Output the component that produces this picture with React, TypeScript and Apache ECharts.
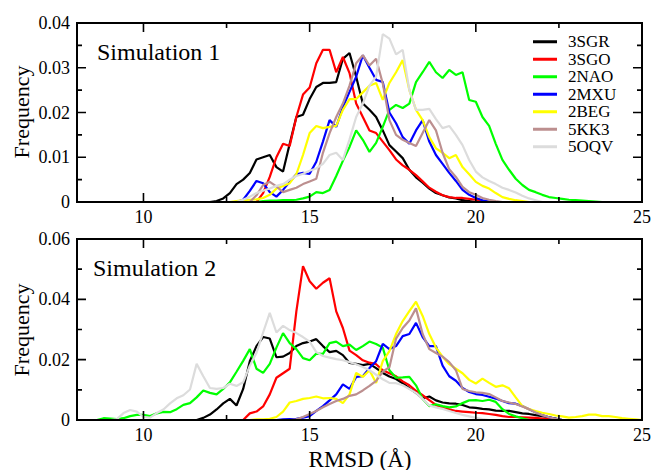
import React, { useEffect, useRef } from 'react';
import * as echarts from 'echarts';

// ---------- data ----------
const seriesNames = ['3SGR', '3SGO', '2NAO', '2MXU', '2BEG', '5KK3', '5OQV'];
const seriesColors = ['#000000', '#ff0000', '#00ff00', '#0000ff', '#ffff00', '#bc8f8f', '#dcdcdc'];
const binWidth = 0.2; // RMSD histogram bin (Å)

const xMajorTicks = [10, 15, 20, 25];
const xMinorTicks = [12.5, 17.5, 22.5];
const sim1YMajorTicks = [0.01, 0.02, 0.03];
const sim1YMinorTicks = [0.005, 0.015, 0.025, 0.035];
const sim2YMajorTicks = [0.02, 0.04];
const sim2YMinorTicks = [0.01, 0.03, 0.05];

// Simulation 1: first bin (Å) and frequencies
const sim1Starts = [12.0, 13.4, 13.4, 12.8, 12.6, 13.2, 12.8];
const sim1_3SGR = [0, 0.0002, 0.0008, 0.002, 0.004, 0.005, 0.0065, 0.0095, 0.010, 0.0105, 0.0078, 0.0068, 0.013, 0.019, 0.0195, 0.023, 0.0257, 0.0266, 0.0266, 0.0268, 0.032, 0.0333, 0.028, 0.022, 0.0206, 0.019, 0.016, 0.0127, 0.0113, 0.0098, 0.0072, 0.0055, 0.0043, 0.003, 0.002, 0.0015, 0.001, 0.0008, 0.0004, 0.0002, 0];
const sim1_3SGO = [0, 0.002, 0.0056, 0.010, 0.013, 0.0125, 0.019, 0.024, 0.0256, 0.031, 0.034, 0.034, 0.029, 0.0324, 0.0288, 0.022, 0.019, 0.016, 0.0154, 0.0135, 0.0116, 0.0095, 0.0082, 0.0072, 0.006, 0.0046, 0.0032, 0.0023, 0.0015, 0.0011, 0.0009, 0.0009, 0.0007, 0.0005, 0.0002, 0];
const sim1_2NAO = [0, 0.0002, 0.0003, 0.0003, 0.0004, 0.0004, 0.0005, 0.0008, 0.0012, 0.0022, 0.002, 0.0027, 0.0058, 0.0092, 0.0123, 0.016, 0.0139, 0.0112, 0.0132, 0.0168, 0.0206, 0.0217, 0.021, 0.022, 0.0268, 0.029, 0.0313, 0.029, 0.0277, 0.0295, 0.0284, 0.029, 0.0228, 0.0224, 0.019, 0.017, 0.013, 0.0094, 0.0072, 0.0052, 0.0038, 0.0027, 0.0022, 0.0016, 0.0011, 0.0009, 0.0007, 0.0005, 0.0004, 0.0003, 0.0002, 0.0001, 0];
const sim1_2MXU = [0, 0.0005, 0.0025, 0.0047, 0.0042, 0.0022, 0.0012, 0.0027, 0.0045, 0.0062, 0.0065, 0.0063, 0.009, 0.0135, 0.0183, 0.0168, 0.0212, 0.0246, 0.028, 0.0328, 0.030, 0.0273, 0.0268, 0.020, 0.0176, 0.0145, 0.013, 0.016, 0.0183, 0.0135, 0.0105, 0.0085, 0.0065, 0.0047, 0.0027, 0.0016, 0.0009, 0.0004, 0.0001, 0];
const sim1_2BEG = [0, 0.0002, 0.0004, 0.0005, 0.0006, 0.0009, 0.0016, 0.003, 0.0036, 0.0042, 0.0062, 0.0105, 0.0154, 0.017, 0.0165, 0.0168, 0.017, 0.0206, 0.023, 0.023, 0.0245, 0.026, 0.0266, 0.0228, 0.0266, 0.029, 0.0317, 0.025, 0.0206, 0.0183, 0.0145, 0.012, 0.011, 0.0098, 0.0105, 0.0078, 0.0062, 0.0045, 0.0036, 0.003, 0.002, 0.0011, 0.0007, 0.0004, 0.0002, 0];
const sim1_5KK3 = [0, 0.0015, 0.0038, 0.0045, 0.0035, 0.0022, 0.0027, 0.0032, 0.004, 0.0046, 0.0052, 0.011, 0.0154, 0.019, 0.022, 0.026, 0.031, 0.0328, 0.0305, 0.032, 0.0265, 0.0183, 0.015, 0.0139, 0.0132, 0.0125, 0.0154, 0.0183, 0.016, 0.011, 0.0073, 0.0056, 0.0034, 0.0022, 0.0016, 0.0009, 0.0005, 0.0002, 0];
const sim1_5OQV = [0, 0.0005, 0.0012, 0.002, 0.0025, 0.003, 0.0036, 0.004, 0.005, 0.0058, 0.0063, 0.007, 0.0075, 0.0085, 0.0105, 0.011, 0.0094, 0.014, 0.019, 0.022, 0.026, 0.028, 0.0375, 0.0365, 0.033, 0.034, 0.025, 0.0206, 0.0206, 0.0208, 0.0185, 0.0165, 0.017, 0.015, 0.0127, 0.0094, 0.0068, 0.0055, 0.0047, 0.004, 0.0032, 0.0027, 0.0021, 0.0014, 0.0008, 0.0004, 0];

// Simulation 2: first bin (Å) and frequencies
const sim2Starts = [11.6, 13.0, 8.6, 14.0, 13.2, 14.4, 9.0];
const sim2_3SGR = [0, 0.0007, 0.0018, 0.0035, 0.0055, 0.007, 0.0048, 0.0103, 0.0195, 0.0245, 0.0275, 0.027, 0.0208, 0.021, 0.0222, 0.0245, 0.0255, 0.026, 0.0268, 0.0245, 0.0225, 0.0229, 0.0215, 0.0189, 0.0186, 0.0182, 0.0186, 0.0172, 0.0156, 0.0144, 0.0136, 0.0122, 0.0105, 0.009, 0.0072, 0.0078, 0.0065, 0.0058, 0.0055, 0.0054, 0.005, 0.0042, 0.004, 0.0037, 0.0035, 0.0031, 0.003, 0.003, 0.0026, 0.0022, 0.002, 0.0016, 0.0013, 0.0009, 0.0005, 0];
const sim2_3SGO = [0, 0.0022, 0.0028, 0.0045, 0.0085, 0.014, 0.0155, 0.017, 0.036, 0.051, 0.046, 0.0435, 0.0455, 0.047, 0.036, 0.0305, 0.023, 0.0215, 0.0198, 0.019, 0.0185, 0.0165, 0.0155, 0.0145, 0.0128, 0.0115, 0.0097, 0.0082, 0.0066, 0.005, 0.004, 0.0035, 0.003, 0.0028, 0.0026, 0.0024, 0.0023, 0.002, 0.0017, 0.0013, 0.001, 0.001, 0.0009, 0.0008, 0.0007, 0.0005, 0.0003, 0];
const sim2_2NAO = [0, 0.0006, 0.0005, 0.0003, 0.0006, 0.0013, 0.0017, 0.0017, 0.0013, 0.0022, 0.0027, 0.0026, 0.0036, 0.005, 0.0056, 0.0075, 0.0098, 0.009, 0.0085, 0.0103, 0.0125, 0.016, 0.0196, 0.0235, 0.017, 0.0156, 0.0186, 0.024, 0.0288, 0.0255, 0.0235, 0.0205, 0.0198, 0.022, 0.0219, 0.0255, 0.026, 0.0245, 0.025, 0.0232, 0.0245, 0.026, 0.0252, 0.024, 0.0165, 0.014, 0.0141, 0.0143, 0.0115, 0.007, 0.0046, 0.0052, 0.0046, 0.0042, 0.0045, 0.0056, 0.0065, 0.0066, 0.0063, 0.0067, 0.006, 0.0036, 0.002, 0.0012, 0.0006, 0];
const sim2_2MXU = [0, 0.0002, 0.0003, 0.0004, 0.0008, 0.0013, 0.003, 0.0046, 0.0065, 0.0085, 0.0118, 0.0103, 0.0143, 0.0145, 0.0172, 0.0195, 0.0252, 0.0235, 0.0245, 0.0278, 0.0285, 0.0322, 0.0275, 0.0245, 0.0245, 0.018, 0.0145, 0.013, 0.0106, 0.0093, 0.0086, 0.0083, 0.0077, 0.0071, 0.0063, 0.0056, 0.0054, 0.0046, 0.0036, 0.0026, 0.0016, 0.0009, 0.0004, 0];
const sim2_2BEG = [0, 0.0002, 0.0002, 0.0004, 0.001, 0.0028, 0.0058, 0.0063, 0.007, 0.0073, 0.0078, 0.0072, 0.0073, 0.007, 0.0056, 0.0085, 0.0156, 0.0143, 0.0165, 0.0123, 0.0195, 0.0228, 0.0285, 0.0328, 0.0361, 0.0392, 0.0345, 0.0285, 0.024, 0.021, 0.0185, 0.017, 0.0155, 0.0133, 0.0121, 0.0137, 0.0123, 0.011, 0.0115, 0.0105, 0.0075, 0.0046, 0.0036, 0.003, 0.0024, 0.002, 0.0015, 0.0012, 0.0008, 0.001, 0.0013, 0.0018, 0.0018, 0.0013, 0.0013, 0.001, 0.0006, 0.0004, 0.0002, 0];
const sim2_5KK3 = [0, 0.0002, 0.001, 0.002, 0.003, 0.0042, 0.0053, 0.0063, 0.007, 0.008, 0.0085, 0.0098, 0.0113, 0.013, 0.016, 0.0175, 0.027, 0.0305, 0.033, 0.037, 0.0285, 0.0235, 0.0222, 0.021, 0.0192, 0.0165, 0.0103, 0.0096, 0.0092, 0.009, 0.0086, 0.0075, 0.0063, 0.0058, 0.0053, 0.0045, 0.0036, 0.0025, 0.0016, 0.0009, 0.0004, 0];
const sim2_5OQV = [0, 0.0003, 0.0023, 0.0033, 0.0028, 0.001, 0.0008, 0.0023, 0.0035, 0.0055, 0.0072, 0.0082, 0.0101, 0.0186, 0.0145, 0.0106, 0.0103, 0.0106, 0.012, 0.0113, 0.0125, 0.018, 0.0222, 0.029, 0.0355, 0.029, 0.0312, 0.0298, 0.0288, 0.0275, 0.026, 0.0225, 0.0212, 0.0207, 0.0202, 0.0198, 0.0192, 0.0185, 0.0176, 0.0165, 0.015, 0.0135, 0.0123, 0.0122, 0.0115, 0.0103, 0.009, 0.007, 0.0048, 0.0042, 0.0037, 0.003, 0.0023, 0.0017, 0.0012, 0.0007, 0.0003, 0];

const sim1Values = [sim1_3SGR, sim1_3SGO, sim1_2NAO, sim1_2MXU, sim1_2BEG, sim1_5KK3, sim1_5OQV];
const sim2Values = [sim2_3SGR, sim2_3SGO, sim2_2NAO, sim2_2MXU, sim2_2BEG, sim2_5KK3, sim2_5OQV];

// ---------- chart ----------
const FONT = '"Liberation Serif", "Times New Roman", Times, serif';
const CHART_W = 654;
const GRID_LEFT = 77;
const GRID_RIGHT = 12;
const GRID1_TOP = 23;
const GRID1_H = 179;
const GRID2_TOP = 239;
const GRID2_H = 181;
const X_MIN = 8;
const X_MAX = 25;
const MAJOR_LEN = 9; // px
const MINOR_LEN = 5; // px
const TICK_W = 1.6;
const FRAME_W = 2;
const PLOT_W = CHART_W - GRID_LEFT - GRID_RIGHT;

function toPoints(from: number, values: number[]) {
  return values.map((v, i) => [Math.round((from + i * binWidth) * 100) / 100, v]);
}

function xAxis(gridIndex: number) {
  return {
    type: 'value',
    gridIndex,
    position: 'bottom',
    min: X_MIN,
    max: X_MAX,
    splitLine: { show: false },
    axisLine: { show: true, onZero: false, lineStyle: { color: '#000', width: FRAME_W } },
    axisTick: { show: false },
    axisLabel: {
      show: true,
      customValues: xMajorTicks,
      margin: 6,
      fontSize: 18,
      fontFamily: FONT,
      color: '#000',
    },
  };
}

function yAxis(gridIndex: number, max: number, interval: number) {
  return {
    type: 'value',
    gridIndex,
    position: 'left',
    min: 0,
    max,
    interval,
    splitLine: { show: false },
    axisLine: { show: true, onZero: false, lineStyle: { color: '#000', width: FRAME_W } },
    axisTick: { show: false },
    axisLabel: {
      show: true,
      margin: 7,
      fontSize: 18,
      fontFamily: FONT,
      color: '#000',
    },
  };
}

function makeSeries(values: number[][], starts: number[], gridIndex: number) {
  return values.map((vals, i) => ({
    type: 'line',
    name: seriesNames[i],
    xAxisIndex: gridIndex,
    yAxisIndex: gridIndex,
    data: toPoints(starts[i], vals),
    showSymbol: false,
    symbol: 'none',
    color: seriesColors[i],
    lineStyle: { color: seriesColors[i], width: 2.2 },
    silent: true,
    z: 2 + i,
  }));
}

// frame + inward ticks on all four sides, drawn as line series on the grid's own axes
function frameSeries(gridIndex: number, yMax: number, plotH: number, yMajor: number[], yMinor: number[]) {
  const xPerPx = (X_MAX - X_MIN) / PLOT_W;
  const yPerPx = yMax / plotH;
  const tickData: any[] = [];
  const xTicks = (vals: number[], lenPx: number) =>
    vals.forEach((v) => {
      const dy = lenPx * yPerPx;
      tickData.push([v, 0], [v, dy], [v, '-']);
      tickData.push([v, yMax], [v, yMax - dy], [v, '-']);
    });
  const yTicks = (vals: number[], lenPx: number) =>
    vals.forEach((v) => {
      const dx = lenPx * xPerPx;
      tickData.push([X_MIN, v], [X_MIN + dx, v], [X_MIN, '-']);
      tickData.push([X_MAX, v], [X_MAX - dx, v], [X_MAX, '-']);
    });
  xTicks(xMajorTicks.filter((v) => v < X_MAX), MAJOR_LEN);
  xTicks(xMinorTicks, MINOR_LEN);
  yTicks(yMajor, MAJOR_LEN);
  yTicks(yMinor, MINOR_LEN);
  const common = {
    type: 'line',
    xAxisIndex: gridIndex,
    yAxisIndex: gridIndex,
    showSymbol: false,
    symbol: 'none',
    silent: true,
    clip: false,
    connectNulls: false,
    z: 20,
  };
  return [
    {
      ...common,
      name: 'frame' + gridIndex,
      data: [[X_MIN, 0], [X_MAX, 0], [X_MAX, yMax], [X_MIN, yMax], [X_MIN, 0], [X_MAX, 0]],
      color: '#000',
      lineStyle: { color: '#000', width: FRAME_W, join: 'miter', cap: 'square' },
    },
    {
      ...common,
      name: 'ticks' + gridIndex,
      data: tickData,
      color: '#000',
      lineStyle: { color: '#000', width: TICK_W, cap: 'butt' },
    },
  ];
}

function textEl(text: string, x: number, y: number, size: number, align: string, rotation = 0) {
  return {
    type: 'text',
    x,
    y,
    rotation,
    style: {
      text,
      fontSize: size,
      fontFamily: FONT,
      fill: '#000',
      align,
      verticalAlign: 'middle',
      textAlign: align,
      textVerticalAlign: 'middle',
    },
  };
}

export default function App() {
  const ref = useRef<HTMLDivElement>(null);

  useEffect(() => {
    if (!ref.current) return;
    const chart = echarts.init(ref.current, null, { renderer: 'svg' });
    const option: any = {
      animation: false,
      backgroundColor: '#ffffff',
      grid: [
        { left: GRID_LEFT, right: GRID_RIGHT, top: GRID1_TOP, height: GRID1_H },
        { left: GRID_LEFT, right: GRID_RIGHT, top: GRID2_TOP, height: GRID2_H },
      ],
      xAxis: [xAxis(0), xAxis(1)],
      yAxis: [yAxis(0, 0.04, 0.01), yAxis(1, 0.06, 0.02)],
      legend: {
        data: seriesNames,
        orient: 'vertical',
        left: 533,
        top: 33,
        itemWidth: 24,
        itemHeight: 3,
        itemGap: 0,
        icon: 'rect',
        selectedMode: false,
        padding: 0,
        textStyle: {
          fontFamily: FONT,
          fontSize: 17,
          color: '#000',
          lineHeight: 17.5,
          padding: [0, 0, 0, 6],
        },
      },
      graphic: [
        textEl('Frequency', 21, 112, 22, 'center', Math.PI / 2),
        textEl('Frequency', 21, 330, 22, 'center', Math.PI / 2),
        textEl('Simulation 1', 97, 52, 24, 'left'),
        textEl('Simulation 2', 93, 268, 24, 'left'),
        textEl('RMSD (Å)', 360, 459, 23, 'center'),
      ],
      series: [
        ...makeSeries(sim1Values, sim1Starts, 0),
        ...makeSeries(sim2Values, sim2Starts, 1),
        ...frameSeries(0, 0.04, GRID1_H, sim1YMajorTicks, sim1YMinorTicks),
        ...frameSeries(1, 0.06, GRID2_H, sim2YMajorTicks, sim2YMinorTicks),
      ],
    };
    chart.setOption(option);
    return () => {
      chart.dispose();
    };
  }, []);

  return (
    <div
      ref={ref}
      style={{ position: 'absolute', left: 0, top: 0, width: 654, height: 470, background: '#fff' }}
    />
  );
}
